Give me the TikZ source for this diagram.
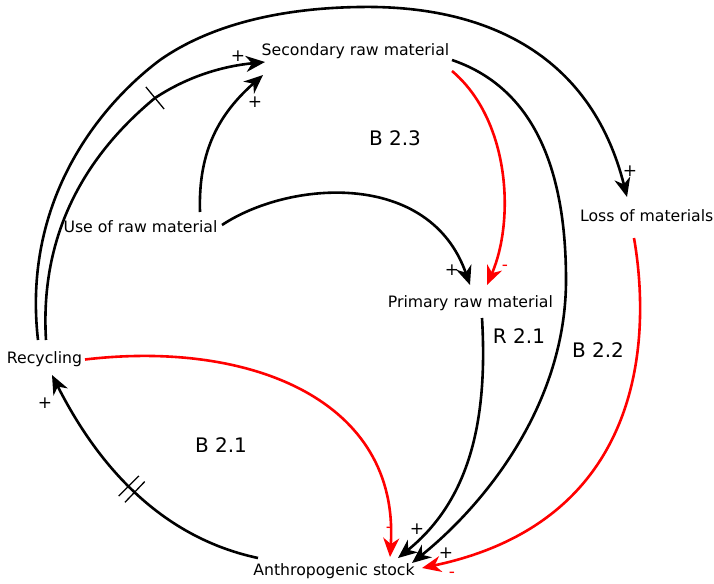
\documentclass[tikz,border=0pt]{standalone}
\usepackage{fontspec}
\setmainfont{DejaVu Sans}
\usetikzlibrary{arrows.meta}
\definecolor{linkred}{RGB}{255,0,0}
\begin{document}
\begin{tikzpicture}[x=1pt,y=-1pt,
  var/.style={inner sep=0pt, anchor=base, font=\fontsize{15.7}{18}\selectfont},
  loopname/.style={inner sep=0pt, anchor=base, font=\fontsize{20}{24}\selectfont},
  sign/.style={inner sep=0pt, font=\fontsize{17}{20}\selectfont},
  negsign/.style={sign, text=linkred},
  link/.style={line width=2.6pt, -{Stealth[length=19pt,width=16pt,inset=6pt]}},
  poslink/.style={link, draw=black},
  neglink/.style={link, draw=linkred},
  tickmark/.style={sloped, inner sep=0pt, minimum width=0pt, minimum height=26pt},
  tickline/.style={line width=1.3pt}]
\useasboundingbox (0,0) rectangle (714,583);

% variables
\node[var] (sec)  at (355.5,56)  {Secondary raw material};
\node[var] (use)  at (140.5,232) {Use of raw material};
\node[var] (loss) at (646.7,221) {Loss of materials};
\node[var] (prim) at (470.4,307) {Primary raw material};
\node[var] (rec)  at (44.5,363.5){Recycling};
\node[var] (anth) at (334,575)   {Anthropogenic stock};

% loop names
\node[loopname] (b23) at (395,146) {B 2.3};
\node[loopname] (b21) at (221,452) {B 2.1};
\node[loopname] (r21) at (519,343) {R 2.1};
\node[loopname] (b22) at (598,357) {B 2.2};

% Recycling -> Loss of materials (outer arc)
\draw[poslink] ([shift={(-6.5,-23.5)}]rec.base)
  .. controls (22,200) and (100,105) .. (160,60)
  .. controls (210,25) and (280,8) .. (360,7)
  .. controls (480,5) and (590,50) .. ([shift={(-19.7,-24)}]loss.base);

% Recycling -> Secondary raw material (delayed)
\draw[poslink] ([shift={(1.5,-23.5)}]rec.base)
  .. controls (40,240) and (80,160) .. (155,98) node[tickmark,pos=1] (d1) {}
  .. controls (190,75) and (225,66) .. ([shift={(-90.5,6)}]sec.base);
\draw[tickline] (d1.north) -- (d1.south);

% Use of raw material -> Secondary / Primary raw material
\draw[poslink] ([shift={(59.5,-20)}]use.base)
  .. controls (198,150) and (220,113) .. ([shift={(-92.5,19)}]sec.base);
\draw[poslink] ([shift={(81.5,-7)}]use.base)
  .. controls (290,180) and (430,170) .. ([shift={(-0.4,-22)}]prim.base);

% Secondary raw material -> Primary raw material
\draw[neglink] ([shift={(96.5,15)}]sec.base)
  .. controls (510,120) and (515,220) .. ([shift={(16.6,-22)}]prim.base);

% Secondary raw material -> Anthropogenic stock
\draw[poslink] ([shift={(96.5,4)}]sec.base)
  .. controls (540,90) and (566,180) .. (566,280)
  .. controls (566,400) and (490,500) .. ([shift={(78,-12)}]anth.base);

% Primary raw material -> Anthropogenic stock
\draw[poslink] ([shift={(11.6,11)}]prim.base)
  .. controls (488,420) and (470,500) .. ([shift={(64,-17)}]anth.base);

% Loss of materials -> Anthropogenic stock
\draw[neglink] ([shift={(-12.7,17)}]loss.base)
  .. controls (650,330) and (650,520) .. ([shift={(88,-7)}]anth.base);

% Recycling -> Anthropogenic stock
\draw[neglink] ([shift={(40.5,-4)}]rec.base)
  .. controls (250,340) and (400,400) .. ([shift={(56,-18)}]anth.base);

% Anthropogenic stock -> Recycling (delayed)
\draw[poslink] ([shift={(-76,-17)}]anth.base)
  .. controls (150,535) and (90,450) .. ([shift={(7.5,11.5)}]rec.base)
  node[tickmark,pos=.47] (d2a) {} node[tickmark,pos=.5] (d2b) {};
\draw[tickline] (d2a.north) -- (d2a.south);
\draw[tickline] (d2b.north) -- (d2b.south);

% polarities
\node[sign] (s1) at (238,56)  {+};
\node[sign] (s2) at (255,102) {+};
\node[sign] (s3) at (630,171) {+};
\node[sign] (s4) at (452,270) {+};
\node[negsign] (s5) at (505,268) {-};
\node[sign] (s6) at (45,403)  {+};
\node[negsign] (s7) at (389,530) {-};
\node[sign] (s8) at (417,529) {+};
\node[sign] (s9) at (446,553) {+};
\node[negsign] (s10) at (452,575) {-};
\end{tikzpicture}
\end{document}
